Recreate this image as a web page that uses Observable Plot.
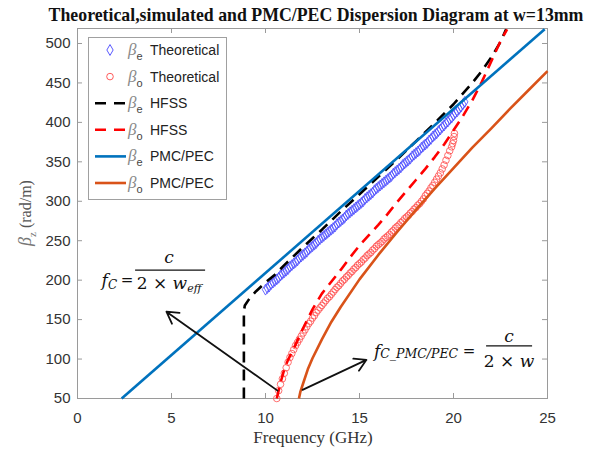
<!DOCTYPE html>
<html><head><meta charset="utf-8">
<script src="https://cdn.jsdelivr.net/npm/d3@7"></script>
<script src="https://cdn.jsdelivr.net/npm/@observablehq/plot@0.6"></script>
<style>body{margin:0;background:#fff;}</style>
</head><body><div id="chart"></div>
<script>
// ---------- data ----------
const titleText = "Theoretical,simulated and PMC/PEC Dispersion Diagram at w=13mm";
const xLabel = "Frequency (GHz)";
const xTicks = [0, 5, 10, 15, 20, 25];
const yTicks = [50, 100, 150, 200, 250, 300, 350, 400, 450, 500];

// beta_e theoretical (diamonds)
const thEF = [10.0,10.1,10.2,10.3,10.4,10.5,10.6,10.7,10.8,10.9,11.0,11.1,11.2,11.3,11.4,11.5,11.6,11.7,11.8,11.9,12.0,12.1,12.2,12.3,12.4,12.5,12.6,12.7,12.8,12.9,13.0,13.1,13.2,13.3,13.4,13.5,13.6,13.7,13.8,13.9,14.0,14.1,14.2,14.3,14.4,14.5,14.6,14.7,14.8,14.9,15.0,15.1,15.2,15.3,15.4,15.5,15.6,15.7,15.8,15.9,16.0,16.1,16.2,16.3,16.4,16.5,16.6,16.7,16.8,16.9,17.0,17.1,17.2,17.3,17.4,17.5,17.6,17.7,17.8,17.9,18.0,18.1,18.2,18.3,18.4,18.5,18.6,18.7,18.8,18.9,19.0,19.1,19.2,19.3,19.4,19.5,19.6,19.7,19.8,19.9,20.0,20.1,20.2,20.3,20.4,20.5,20.6];
const thEB = [188,190,192,195,197,199,201,203,206,208,210,212,214,217,219,221,223,225,228,230,232,234,236,239,241,243,245,247,250,252,254,256,258,260,262,264,266,268,271,273,275,277,279,282,284,286,288,290,292,294,296,298,300,303,305,307,309,311,314,316,318,320,322,324,326,328,330,332,335,337,339,341,343,346,348,350,352,354,357,359,361,363,365,368,370,372,374,377,379,382,384,386,389,391,394,396,399,401,404,406,409,412,414,417,420,423,426];

// beta_o theoretical (circles)
const thOF = [10.6,10.7,10.8,10.9,11.0,11.1,11.2,11.3,11.4,11.5,11.6,11.7,11.8,11.9,12.0,12.1,12.2,12.3,12.4,12.5,12.6,12.7,12.8,12.9,13.0,13.1,13.2,13.3,13.4,13.5,13.6,13.7,13.8,13.9,14.0,14.1,14.2,14.3,14.4,14.5,14.6,14.7,14.8,14.9,15.0,15.1,15.2,15.3,15.4,15.5,15.6,15.7,15.8,15.9,16.0,16.1,16.2,16.3,16.4,16.5,16.6,16.7,16.8,16.9,17.0,17.1,17.2,17.3,17.4,17.5,17.6,17.7,17.8,17.9,18.0,18.1,18.2,18.3,18.4,18.5,18.6,18.7,18.8,18.9,19.0,19.1,19.2,19.3,19.4,19.5,19.6,19.7,19.8,19.9,19.95,20.0,20.03,20.05];
const thOB = [50,60,68,75,82,89,96,102,107,112,117,121,125,129,133,137,141,145,148,152,155,159,162,165,168,171,174,177,179,182,185,188,191,193,196,199,201,204,206,209,211,214,216,219,221,223,226,228,231,233,235,238,240,243,245,247,249,252,254,256,258,261,263,266,268,270,273,275,278,280,282,285,287,290,292,295,297,300,303,307,310,313,317,320,324,328,332,336,341,346,352,358,364,369,373,377,382,386];

// HFSS beta_e (black dashed)
const hfEF = [8.85,8.85,8.9,9.1,9.5,10,10.5,11,12,13,14,15,16,17,18,19,20,21,21.5,22,22.5,22.8];
const hfEB = [50,160,168,175,186,197,207,219,242,264,287,309,331,353,376,399,423,450,465,482,502,518];

// HFSS beta_o (red dashed)
const hfOF = [10.6,10.8,11,11.2,11.5,12,12.5,13,13.5,14,14.5,15,15.5,16,16.5,17,17.5,18,18.5,19,19.5,20,20.5,21,21.5,22,22.5,22.85];
const hfOB = [50,70,87,99,113,139,163,183,198,213,229,244,257,270,284,299,313,327,341,356,372,390,408,428,451,477,503,518];

// PMC/PEC beta_e (blue) and beta_o (orange)
const pmEF = [2.35, 24.85];
const pmEB = [50, 518];
const pmOF = [11.78,11.85,12,12.25,12.5,13,13.5,14,15,16,17,18,19,20,21,22,23,24,25];
const pmOB = [50,58,69,87,101,125,147,166,201,232,261,289,316,342,368,392,417,441,465];

// legend
const legendSubs = ["e","o","e","o","e","o"];
const legendNames = ["Theoretical","Theoretical","HFSS","HFSS","PMC/PEC","PMC/PEC"];

// annotation arrows (tail -> head) in data units
const arrX1 = [10.64, 11.97];
const arrY1 = [60, 61];
const arrX2 = [4.73, 15.37];
const arrY2 = [160, 99];
// formula anchors (left end of fraction bar), data units
const fmX = [3.09, 21.76];
const fmY = [212, 116];

// ---------- colors ----------
const cBlue = "#0072BD", cOrange = "#D95319", cDia = "#4646ff", cCirc = "#ff4a4a";

const idx = a => a.map((_, i) => i);
const arrows = idx(arrX1);

const plot = Plot.plot({
  width: 593, height: 450,
  marginLeft: 77, marginRight: 46, marginTop: 28, marginBottom: 52,
  x: {domain: [0, 25]},
  y: {domain: [50, 519]},
  style: {fontFamily: "'Liberation Sans', Arial, sans-serif", fontSize: "15px", color: "#333", background: "#fff"},
  marks: [
    Plot.frame({stroke: "#9a9a9a"}),
    Plot.ruleX(xTicks.slice(1, -1), {x: d => d, insetTop: 365, stroke: "#9a9a9a"}),
    Plot.ruleX(xTicks.slice(1, -1), {x: d => d, insetBottom: 365, stroke: "#9a9a9a"}),
    Plot.ruleY(yTicks.slice(1), {y: d => d, insetRight: 465, stroke: "#9a9a9a"}),
    Plot.ruleY(yTicks.slice(1), {y: d => d, insetLeft: 465, stroke: "#9a9a9a"}),
    Plot.axisX({ticks: xTicks, tickSize: 0, tickPadding: 14, label: null, fontSize: 15, fill: "#333"}),
    Plot.axisY({ticks: yTicks, tickSize: 0, tickPadding: 7, label: null, fontSize: 15, fill: "#333"}),
    Plot.dot(thEF, {x: d => d, y: (d, i) => thEB[i], symbol: "diamond", r: 3.3, stroke: cDia, fill: "none", strokeWidth: 0.8}),
    Plot.dot(thOF, {x: d => d, y: (d, i) => thOB[i], symbol: "circle", r: 3.3, stroke: cCirc, fill: "none", strokeWidth: 0.8}),
    Plot.line(hfEF, {x: d => d, y: (d, i) => hfEB[i], stroke: "#000", strokeWidth: 2.6, strokeDasharray: "11,7", strokeLinecap: "butt"}),
    Plot.line(hfOF, {x: d => d, y: (d, i) => hfOB[i], stroke: "#ff0000", strokeWidth: 2.6, strokeDasharray: "11,7", strokeLinecap: "butt"}),
    Plot.line(pmEF, {x: d => d, y: (d, i) => pmEB[i], stroke: cBlue, strokeWidth: 2.6, strokeLinecap: "butt"}),
    Plot.line(pmOF, {x: d => d, y: (d, i) => pmOB[i], stroke: cOrange, strokeWidth: 2.6, strokeLinecap: "butt"}),
    Plot.arrow(arrows, {x1: i => arrX1[i], y1: i => arrY1[i], x2: i => arrX2[i], y2: i => arrY2[i], stroke: "#111", strokeWidth: 1.8, headLength: 11})
  ]
});
document.getElementById("chart").appendChild(plot);

const svg = d3.select(plot);
const sx = plot.scale("x"), sy = plot.scale("y");
const serif = "'Liberation Serif', 'Times New Roman', serif";
const mathF = "'DejaVu Serif', serif";

// title
svg.append("text").attr("x", 316).attr("y", 21).attr("text-anchor", "middle")
  .attr("font-family", serif).attr("font-weight", "bold").attr("font-size", 17.8).attr("fill", "#111").text(titleText);

// x label
svg.append("text").attr("x", 313).attr("y", 443).attr("text-anchor", "middle")
  .attr("font-family", serif).attr("font-size", 17).attr("fill", "#333").text(xLabel);

// y label
const yl = svg.append("text").attr("transform", "translate(31,213) rotate(-90)").attr("text-anchor", "middle")
  .attr("font-family", serif).attr("fill", "#555");
yl.append("tspan").text("β").attr("font-style", "italic").attr("font-size", 18).attr("fill", "#777");
yl.append("tspan").text("z").attr("font-size", 11).attr("dy", 5).attr("fill", "#777");
yl.append("tspan").text(" (rad/m)").attr("font-size", 16).attr("dy", -5);

// legend
const L = svg.append("g").attr("text-anchor", "start");
L.append("rect").attr("x", 88.5).attr("y", 37.5).attr("width", 138).attr("height", 162)
  .attr("fill", "#fff").attr("stroke", "#a0a0a0");
legendNames.forEach((name, i) => {
  const y = 50 + i * 26.6;
  if (i === 0) {
    L.append("path").attr("d", d3.symbol(d3.symbolDiamond, 3.3 * 3.3 * Math.PI)())
      .attr("transform", `translate(110,${y})`).attr("fill", "none").attr("stroke", cDia).attr("stroke-width", 0.9);
  } else if (i === 1) {
    L.append("circle").attr("cx", 110).attr("cy", y).attr("r", 3.3).attr("fill", "none").attr("stroke", cCirc).attr("stroke-width", 0.9);
  } else {
    const col = [null, null, "#000", "#ff0000", cBlue, cOrange][i];
    L.append("line").attr("x1", 95).attr("x2", 126).attr("y1", y).attr("y2", y)
      .attr("stroke", col).attr("stroke-width", 2.6)
      .attr("stroke-dasharray", i < 4 ? "11,8" : null);
  }
  const t = L.append("text").attr("x", 128).attr("y", y + 5).attr("text-anchor", "start")
    .attr("font-family", "'Liberation Sans', Arial, sans-serif");
  t.append("tspan").text("β").attr("font-family", serif).attr("font-style", "italic").attr("font-size", 17).attr("fill", "#8a8a8a");
  t.append("tspan").text(legendSubs[i]).attr("dy", 5).attr("font-size", 11).attr("fill", "#444");
  t.append("tspan").text(name).attr("x", 150).attr("dy", -5).attr("font-size", 14).attr("fill", "#222");
});

// formula 1: f_C = c / (2 × w_eff)
{
  const ax = sx.apply(fmX[0]), ay = sy.apply(fmY[0]);
  const g = svg.append("g").attr("transform", `translate(${ax},${ay})`).attr("font-family", mathF).attr("fill", "#111");
  const f = g.append("text").attr("x", -18).attr("y", 16).attr("text-anchor", "end").attr("font-size", 17);
  f.append("tspan").text("f").attr("font-style", "italic");
  f.append("tspan").text("C").attr("font-style", "italic").attr("font-size", 12).attr("dy", 3);
  g.append("text").attr("x", -8).attr("y", 15).attr("text-anchor", "middle").attr("font-size", 15).text("=");
  g.append("line").attr("x1", 0).attr("x2", 70).attr("y1", 0).attr("y2", 0).attr("stroke", "#111").attr("stroke-width", 1.2);
  g.append("text").attr("x", 34).attr("y", -7).attr("text-anchor", "middle").attr("font-size", 17).attr("font-style", "italic").text("c");
  const d = g.append("text").attr("x", 34).attr("y", 19).attr("text-anchor", "middle").attr("font-size", 17);
  d.append("tspan").text("2 × ");
  d.append("tspan").text("w").attr("font-style", "italic");
  d.append("tspan").text("eff").attr("font-style", "italic").attr("font-size", 11).attr("dy", 3);
}
// formula 2: f_C_PMC/PEC = c / (2 × w)
{
  const ax = sx.apply(fmX[1]), ay = sy.apply(fmY[1]);
  const g = svg.append("g").attr("transform", `translate(${ax},${ay})`).attr("font-family", mathF).attr("fill", "#111");
  const f = g.append("text").attr("x", -28).attr("y", 11).attr("text-anchor", "end").attr("font-size", 17);
  f.append("tspan").text("f").attr("font-style", "italic");
  f.append("tspan").text("C_PMC/PEC").attr("font-style", "italic").attr("font-size", 12.5).attr("dy", 1);
  g.append("text").attr("x", -17).attr("y", 10).attr("text-anchor", "middle").attr("font-size", 15).text("=");
  g.append("line").attr("x1", 0).attr("x2", 46).attr("y1", 0).attr("y2", 0).attr("stroke", "#111").attr("stroke-width", 1.2);
  g.append("text").attr("x", 23).attr("y", -4).attr("text-anchor", "middle").attr("font-size", 17).attr("font-style", "italic").text("c");
  const d = g.append("text").attr("x", 23).attr("y", 21).attr("text-anchor", "middle").attr("font-size", 17);
  d.append("tspan").text("2 × ");
  d.append("tspan").text("w").attr("font-style", "italic");
}
</script>
</body></html>
